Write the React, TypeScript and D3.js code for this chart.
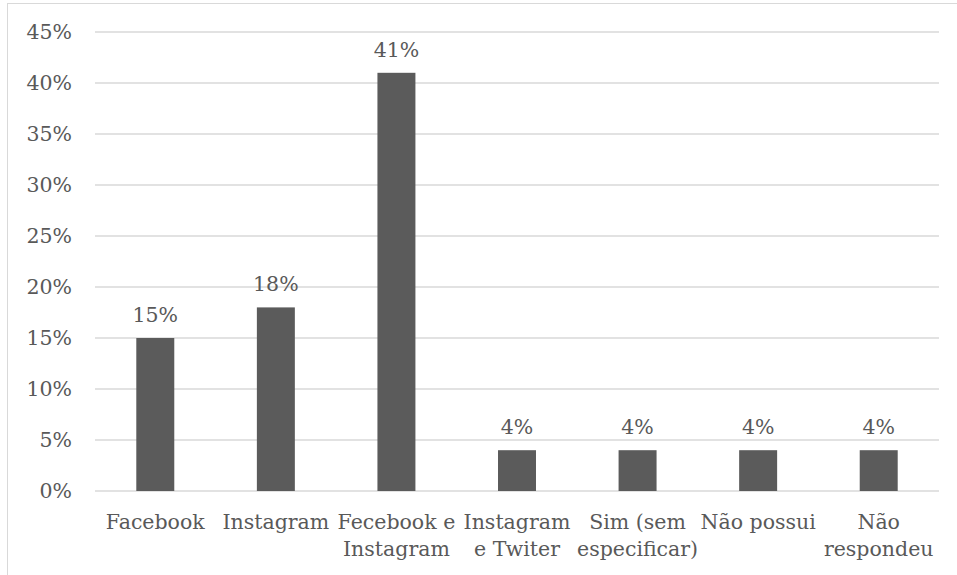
import React from 'react';
import * as d3 from 'd3';

// chart values
const categories = ['Facebook', 'Instagram', 'Fecebook e Instagram', 'Instagram e Twiter', 'Sim (sem especificar)', 'Não possui', 'Não respondeu'];
const labelLines = [['Facebook'], ['Instagram'], ['Fecebook e', 'Instagram'], ['Instagram', 'e Twiter'], ['Sim (sem', 'especificar)'], ['Não possui'], ['Não', 'respondeu']];
const values = [0.15, 0.18, 0.41, 0.04, 0.04, 0.04, 0.04];
const yTicks = [0, 0.05, 0.1, 0.15, 0.2, 0.25, 0.3, 0.35, 0.4, 0.45];

const W = 957;
const H = 575;
const plot = { left: 95, right: 939, top: 32, bottom: 491 };
const textColor = '#595959';
const gridColor = '#d9d9d9';
const barColor = '#5b5b5b';
const font = '"DejaVu Serif", serif';
const fs = 20.5;

export default function App() {
  const x = d3
    .scaleBand<string>()
    .domain(categories)
    .range([plot.left, plot.right])
    .paddingInner(0.685)
    .paddingOuter(0.3425);
  const y = d3.scaleLinear().domain([0, 0.45]).range([plot.bottom, plot.top]);
  const pct = d3.format('.0%');

  return (
    <svg
      width={W}
      height={H}
      style={{ position: 'absolute', left: 0, top: 0, background: '#fff' }}
      fontFamily={font}
    >
      <rect x={7.5} y={3.5} width={W + 10} height={H + 10} fill="#fff" stroke={gridColor} />

      {/* grid lines + y labels */}
      {yTicks.map((t) => (
        <g key={t}>
          <line x1={plot.left} x2={plot.right} y1={y(t)} y2={y(t)} stroke={gridColor} strokeWidth={1.3} />
          <text x={72} y={y(t)} dy="0.35em" textAnchor="end" fontSize={fs} fill={textColor}>
            {pct(t)}
          </text>
        </g>
      ))}

      {/* bars */}
      {categories.map((c, i) => (
        <g key={c}>
          <rect
            x={x(c)}
            y={y(values[i])}
            width={x.bandwidth()}
            height={y(0) - y(values[i])}
            fill={barColor}
          />
          <text
            x={(x(c) || 0) + x.bandwidth() / 2}
            y={y(values[i]) - 16}
            textAnchor="middle"
            fontSize={fs}
            fill={textColor}
          >
            {pct(values[i])}
          </text>
          <text x={(x(c) || 0) + x.bandwidth() / 2} y={529} textAnchor="middle" fontSize={fs} fill={textColor}>
            {labelLines[i].map((l, j) => (
              <tspan key={j} x={(x(c) || 0) + x.bandwidth() / 2} dy={j === 0 ? 0 : 27}>
                {l}
              </tspan>
            ))}
          </text>
        </g>
      ))}
    </svg>
  );
}
